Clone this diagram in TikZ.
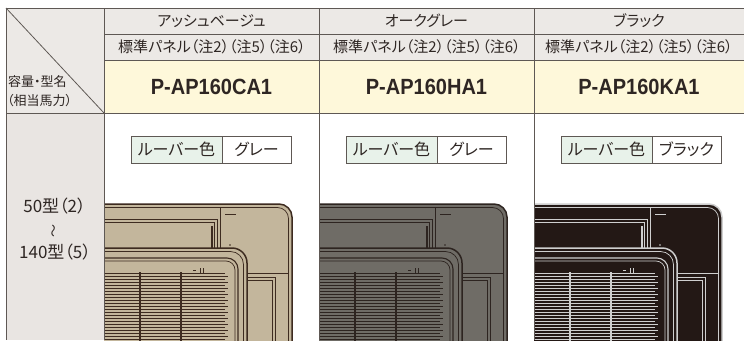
\documentclass[tikz,border=0pt]{standalone}
\usepackage{fontspec}
\setmainfont{Noto Sans CJK JP}[RawFeature=+palt]
\newfontfamily\modelfont{Liberation Sans}[FakeStretch=0.91]

\definecolor{ink}{HTML}{2E2623}
\definecolor{gridline}{HTML}{5E5854}
\definecolor{headgray}{HTML}{ECE9E6}
\definecolor{sidegray}{HTML}{E9E5E2}
\definecolor{modelyellow}{HTML}{FEF8DA}
\definecolor{louvgreen}{HTML}{E8F2EA}
\definecolor{beige}{HTML}{C3B69C}
\definecolor{beigeline}{HTML}{3D2B20}
\definecolor{oak}{HTML}{6F6C66}
\definecolor{oakline}{HTML}{2D2420}
\definecolor{blackpanel}{HTML}{231815}
\definecolor{blackline}{HTML}{CFCFCF}

\begin{document}
\begin{tikzpicture}[x=1pt,y=-1pt,
    rule/.style={draw=gridline,line width=0.8pt},
    head/.style={font=\fontsize{15}{18}\selectfont,text=ink,inner sep=0pt},
    side/.style={font=\fontsize{13}{15}\selectfont,text=ink,inner sep=0pt,anchor=west},
    body/.style={font=\fontsize{17}{19}\selectfont,text=ink,inner sep=0pt},
    model/.style={font=\modelfont\bfseries\fontsize{22}{22}\selectfont,text=ink,inner sep=0pt},
    louv/.style={font=\fontsize{16}{18}\selectfont,text=ink,inner sep=0pt},
    outline/.style={line width=1.5pt,line join=round},
    thin/.style={line width=0.7pt}]
\useasboundingbox (0,0) rectangle (744,340);
\fill[white] (0,0) rectangle (744,340);
% backgrounds
\fill[headgray] (6,8) rectangle (744,60);
\fill[headgray] (6,8) rectangle (104,113);
\fill[modelyellow] (104,60) rectangle (744,113);
\fill[sidegray] (6,113) rectangle (104,340);

% panels
\foreach \x/\pc/\lc in {104/beige/beigeline,319/oak/oakline,534/blackpanel/blackline}{
  \begin{scope}
    \clip (\x,114) rectangle ({\x+210},340);
    \draw[outline,draw=\lc,fill=\pc,rounded corners=13pt] ({\x-20},204) rectangle ({\x+188},360);
    \draw[thin,draw=\lc,rounded corners=11pt] ({\x-20},207.5) rectangle ({\x+184.5},360);
    \draw[thin,draw=\lc] ({\x+116},207.5) -- ({\x+116},250) ({\x+140},273) -- ({\x+184.5},273);
    \draw[thin,draw=\lc] ({\x-2},219) -- ({\x+113},219) -- ({\x+113},250);
    \draw[thin,draw=\lc] ({\x-2},222) -- ({\x+110},222) -- ({\x+110},250);
    \draw[line width=1.5pt,draw=\lc] ({\x+108},226) -- ({\x+108},250);
    \draw[thin,draw=\lc] ({\x+121},214) -- ({\x+132},214);
    \fill[\lc] ({\x+126},245) circle (0.8);
    \draw[thin,draw=\lc] ({\x+140},277) -- ({\x+171},277) -- ({\x+171},345);
    \draw[thin,draw=\lc] ({\x+140},280) -- ({\x+168},280) -- ({\x+168},345);
    % front frame
    \draw[outline,draw=\lc,fill=\pc,rounded corners=15pt] ({\x-20},248) rectangle ({\x+143},360);
    \draw[thin,draw=\lc,rounded corners=13pt] ({\x-20},251.5) rectangle ({\x+139.5},360);
    \draw[line width=1.1pt,draw=\lc,rounded corners=11pt] ({\x-20},258) rectangle ({\x+134},360);
    \draw[thin,draw=\lc,rounded corners=9pt] ({\x-20},261) rectangle ({\x+131},360);
    % grille
    \foreach \g in {0,...,22}
      \draw[line width=1.4pt,draw=\lc] ({\x-2},{273.5+3*\g}) -- ({\x+121+mod(\g,2)*3},{273.5+3*\g});
    \draw[line width=2pt,draw=\lc] ({\x+36},272) -- ({\x+36},345) ({\x+77},272) -- ({\x+77},345);
    \draw[thin,draw=\lc] ({\x+89},270) -- ({\x+92},270) ({\x+96},268) -- ({\x+96},274) ({\x+99},268) -- ({\x+99},274);
  \end{scope}
}

% louver colour boxes
\foreach \x/\c/\n in {104/グレー/A,319/グレー/B,534/ブラック/C}{
  \fill[louvgreen] ({\x+27},136) rectangle ({\x+118},163);
  \fill[white] ({\x+118},136) rectangle ({\x+187},163);
  \draw[rule] ({\x+27},136) rectangle ({\x+187},163) ({\x+118},136) -- ({\x+118},163);
  \node[louv] (louv\n) at ({\x+72.5},149.5) {ルーバー色};
  \node[louv] (louvcol\n) at ({\x+152.5},149.5) {\c};
}

% table rules
\draw[rule] (6,8) -- (744,8) (104,34) -- (744,34) (104,60) -- (744,60) (6,113) -- (744,113);
\draw[rule] (6,8) -- (6,340) (104,8) -- (104,340) (319,8) -- (319,340) (534,8) -- (534,340);
\draw[rule] (6,8) -- (104,113);

% header
\node[head] (colA) at (211.5,21) {アッシュベージュ};
\node[head] (colB) at (426.5,21) {オークグレー};
\node[head] (colC) at (639,21) {ブラック};
\node[head] (pnlA) at (212,47) {標準パネル（注2）（注5）（注6）};
\node[head] (pnlB) at (427,47) {標準パネル（注2）（注5）（注6）};
\node[head] (pnlC) at (639,47) {標準パネル（注2）（注5）（注6）};
\node[model] (modelA) at (211.5,87) {P-AP160CA1};
\node[model] (modelB) at (426.5,87) {P-AP160HA1};
\node[model] (modelC) at (639,87) {P-AP160KA1};
\node[side] (cap) at (8,82) {容量・型名};
\node[side] (hp) at (7,101) {（相当馬力）};

% capacity range
\node[body] (low) at (54.5,206) {50型（2）};
\node[body,font=\fontsize{13}{13}\selectfont,rotate=90] (wave) at (55,231) {～};
\node[body] (high) at (55,252) {140型（5）};
\end{tikzpicture}
\end{document}
